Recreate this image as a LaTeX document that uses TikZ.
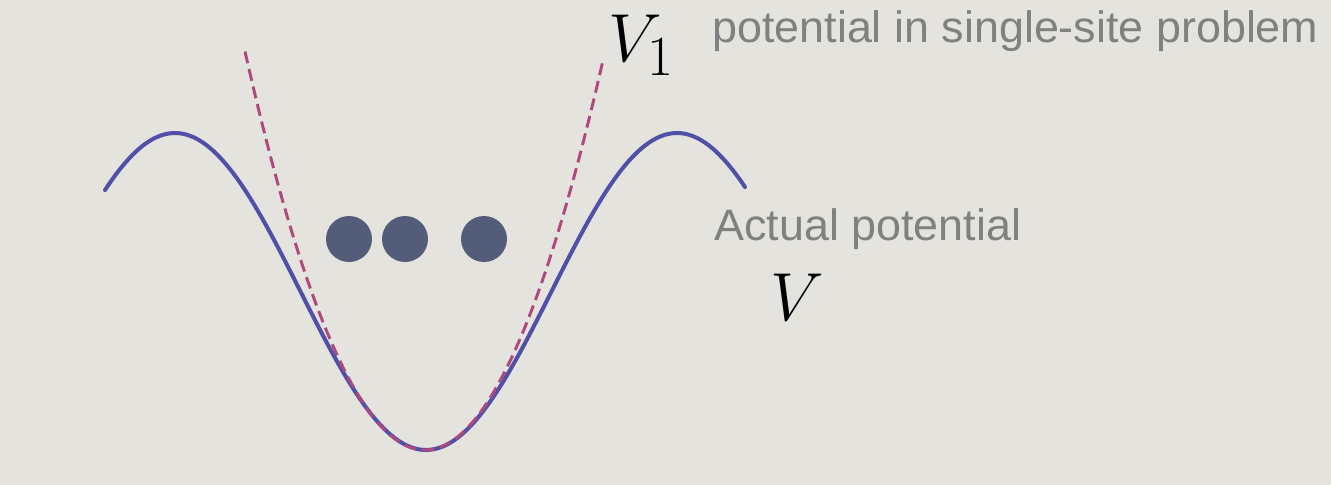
\documentclass[tikz,border=0pt]{standalone}
\usepackage{fontspec}
\setsansfont{Liberation Sans}
\begin{document}
\begin{tikzpicture}[x=0.75pt,y=-0.75pt,
  bgc/.style={fill={rgb,255:red,228;green,227;blue,222}},
  actual/.style={draw={rgb,255:red,80;green,80;blue,168},line width=3pt,line cap=round},
  approx/.style={draw={rgb,255:red,176;green,72;blue,126},line width=2.2pt,dash pattern=on 9pt off 4.5pt},
  ball/.style={circle,fill={rgb,255:red,83;green,92;blue,120},minimum size=34.5pt,inner sep=0pt},
  lbl/.style={inner sep=0pt,text={rgb,255:red,128;green,128;blue,128},font=\sffamily\fontsize{33}{38}\selectfont},
  sym/.style={inner sep=0pt,font=\Huge}]
\fill[bgc] (0,0) rectangle (1331,485);
\useasboundingbox (0,0) rectangle (1331,485);
\draw[actual] plot[domain=105:745,samples=160,smooth] (\x,{291.5+158.5*cos(0.717131*(\x-426))});
\draw[approx] plot[domain=245:603,samples=120,smooth] (\x,{450-((\x-425)/9.017)^2});
\node[ball] (b1) at (349,239) {};
\node[ball] (b2) at (405,239) {};
\node[ball] (b3) at (484,239) {};
\node[sym,anchor=base west] (v1) at (608,62) {\scalebox{2.05}{$V_1$}};
\node[lbl,anchor=base west] (t1) at (712,43) {\scalebox{1.02}[1]{potential in single-site problem}};
\node[lbl,anchor=base west] (t2) at (714,240) {\scalebox{1.02}[1]{Actual potential}};
\node[sym,anchor=base west] (v) at (770,320) {\scalebox{2.05}{$V$}};
\end{tikzpicture}
\end{document}
